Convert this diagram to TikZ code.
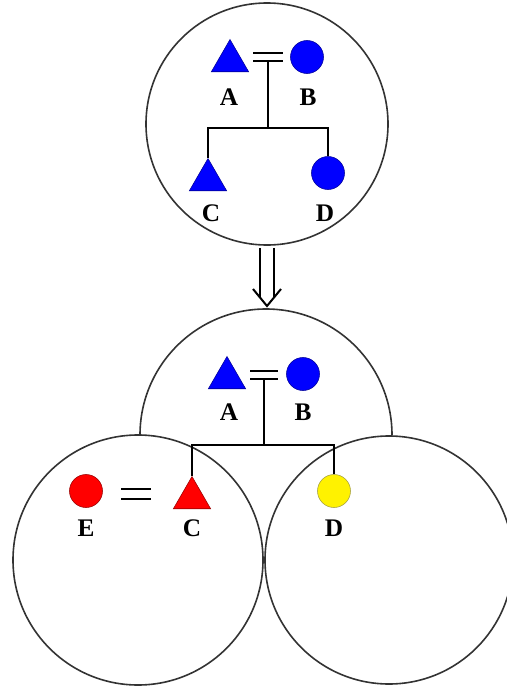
\documentclass[tikz,border=0pt]{standalone}
\usepackage{fontspec}
\setmainfont{Liberation Serif}
\usetikzlibrary{shapes.geometric,calc}
\newcommand{\pxu}{*0.25mm}
\tikzset{
    male/.style={regular polygon, regular polygon sides=3, inner sep=0pt, minimum size=43\pxu, draw=#1!60!black, fill=#1},
    female/.style={circle, inner sep=0pt, minimum size=33\pxu, draw=#1!60!black, fill=#1},
    lab/.style={inner sep=0pt, font=\fontsize{18}{18}\selectfont\bfseries},
    marriage/.style={double, double distance=6\pxu, line width=0.5mm},
    line/.style={line width=0.5mm},
    ring/.style={line width=0.4mm, black!80}
}
\begin{document}
\begin{tikzpicture}[x=0.25mm, y=-0.25mm]
        \useasboundingbox (0,0) rectangle (506,687);
        % first family
        \node[circle, draw, ring, minimum size=242\pxu, inner sep=0pt] (fam1) at (267,124) {};
        \node[male=blue] (A1) at (230,61) {};
        \node[female=blue] (B1) at (307,57) {};
        \node[lab] (labA1) at (229,97) {A};
        \node[lab] (labB1) at (308,97) {B};
        \coordinate (m1) at (268,57);
        \draw[marriage] ($(m1)+(-15,0)$) -- ($(m1)+(15,0)$);
        \draw[line] ($(m1)+(0,4.5)$) -- (268,128) coordinate (s1);
        \node[male=blue] (C1) at (208,180) {};
        \node[female=blue] (D1) at (328,173) {};
        \node[lab] (labC1) at (211,213) {C};
        \node[lab] (labD1) at (325,213) {D};
        \draw[line] (C1.north) |- (s1) -| (D1.north);
        % arrow
        \coordinate (tip) at (267,306);
        \draw[line] ($(tip)+(-14,-17)$) -- (tip) -- ($(tip)+(14,-17)$);
        \draw[line] ($(fam1.south)+(-7,2)$) -- ($(tip)+(-7,-8.5)$);
        \draw[line] ($(fam1.south)+(7,2)$) -- ($(tip)+(7,-8.5)$);
        % second family
        \draw[ring] (140,435) arc[start angle=180, end angle=360, radius=126];
        \draw[ring] (138,560) circle[radius=125];
        \draw[ring] (389,560) circle[radius=124];
        \node[male=blue] (A2) at (227,378) {};
        \node[female=blue] (B2) at (303,374) {};
        \node[lab] (labA2) at (229,412) {A};
        \node[lab] (labB2) at (303,412) {B};
        \coordinate (m2) at (264,374.5);
        \draw[marriage] ($(m2)+(-14,0)$) -- ($(m2)+(14,0)$);
        \draw[line] ($(m2)+(0,4.5)$) -- (264,445) coordinate (s2);
        \node[female=red] (E) at (86,491) {};
        \node[male=red] (C2) at (192,498) {};
        \node[female=yellow] (D2) at (334,491) {};
        \node[lab] (labE) at (86,528) {E};
        \node[lab] (labC2) at (192,528) {C};
        \node[lab] (labD2) at (334,528) {D};
        \coordinate (m3) at (136,493.5);
        \draw[marriage, double distance=8\pxu] ($(m3)+(-15,0)$) -- ($(m3)+(15,0)$);
        \draw[line] (C2.north) |- (s2) -| (D2.north);
\end{tikzpicture}
\end{document}
